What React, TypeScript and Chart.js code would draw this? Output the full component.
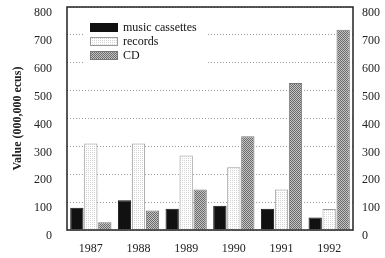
import React, { useEffect, useRef } from "react";
import { Chart, registerables } from "chart.js";

Chart.register(...registerables);

const years = ["1987", "1988", "1989", "1990", "1991", "1992"];
const cassettes = [80, 107, 76, 87, 76, 45];
const records = [310, 310, 267, 225, 145, 75];
const cds = [28, 70, 145, 336, 527, 718];
const seriesNames = ["music cassettes", "records", "CD"];
const yTicks = [0, 100, 200, 300, 400, 500, 600, 700, 800];
const yTitle = "Value (000,000 ecus)";

function makePattern(kind: string): CanvasPattern | string {
  const c = document.createElement("canvas");
  c.width = 2;
  c.height = 2;
  const g = c.getContext("2d");
  if (!g) return "#999";
  if (kind === "records") {
    g.fillStyle = "#ffffff";
    g.fillRect(0, 0, 2, 2);
    g.fillStyle = "#d4d4d4";
    g.fillRect(0, 0, 1, 1);
  } else {
    g.fillStyle = "#c4c4c4";
    g.fillRect(0, 0, 2, 2);
    g.fillStyle = "#6a6a6a";
    g.fillRect(0, 0, 1, 1);
    g.fillRect(1, 1, 1, 1);
  }
  const ctx = document.createElement("canvas").getContext("2d")!;
  return ctx.createPattern(c, "repeat") || "#999";
}

export default function App() {
  const ref = useRef<HTMLCanvasElement | null>(null);

  useEffect(() => {
    document.body.style.margin = "0";
    const canvas = ref.current;
    if (!canvas) return;
    const recFill = makePattern("records");
    const cdFill = makePattern("cd");
    const fills = ["#111111", recFill, cdFill];
    const borders = ["#111111", "#9a9a9a", "#777777"];

    const framePlugin = {
      id: "frameLegend",
      afterDatasetsDraw(chart: any) {
        const { ctx, chartArea } = chart;
        ctx.save();
        ctx.strokeStyle = "#222";
        ctx.lineWidth = 1.5;
        ctx.strokeRect(chartArea.left, chartArea.top, chartArea.right - chartArea.left, chartArea.bottom - chartArea.top);
        const lx = chartArea.left + 23;
        const ly = chartArea.top + 16;
        ctx.fillStyle = "#ffffff";
        ctx.fillRect(lx - 5, ly - 5, 122, 46);
        ctx.font = "12px 'Liberation Serif', serif";
        ctx.textBaseline = "middle";
        seriesNames.forEach((name, i) => {
          const y = ly + i * 14;
          ctx.fillStyle = fills[i] as any;
          ctx.fillRect(lx, y, 28, 9);
          ctx.strokeStyle = borders[i];
          ctx.lineWidth = 1;
          ctx.strokeRect(lx + 0.5, y + 0.5, 27, 8);
          ctx.fillStyle = "#111";
          ctx.fillText(name, lx + 33, y + 4.5);
        });
        ctx.restore();
      },
    };

    const noPad = (scale: any) => {
      scale.paddingTop = 0;
      scale.paddingBottom = 0;
    };

    const chart = new Chart(canvas, {
      type: "bar",
      data: {
        labels: years,
        datasets: [
          { label: seriesNames[0], data: cassettes, backgroundColor: fills[0] as any, borderColor: borders[0], borderWidth: 1 },
          { label: seriesNames[1], data: records, backgroundColor: fills[1] as any, borderColor: borders[1], borderWidth: 1 },
          { label: seriesNames[2], data: cds, backgroundColor: fills[2] as any, borderColor: borders[2], borderWidth: 1 },
        ],
      },
      options: {
        responsive: false,
        animation: false,
        maintainAspectRatio: false,
        layout: { padding: { top: 7, left: 0, right: 0, bottom: 0 } },
        datasets: { bar: { barPercentage: 0.95, categoryPercentage: 0.88 } },
        plugins: { legend: { display: false }, tooltip: { enabled: false } },
        scales: {
          x: {
            grid: { display: false, drawTicks: false },
            border: { display: false },
            ticks: { color: "#222", font: { family: "'Liberation Serif', serif", size: 12 }, padding: 12 },
            afterFit(scale: any) { scale.height = 28; },
          },
          y: {
            position: "left",
            min: 0,
            max: 800,
            afterBuildTicks(scale: any) { scale.ticks = yTicks.map((v) => ({ value: v })); },
            grid: { color: "#9a9a9a", drawTicks: false, lineWidth: 1 },
            border: { display: false, dash: [1, 2] },
            ticks: { color: "#222", font: { family: "'Liberation Serif', serif", size: 12 }, padding: 15, labelOffset: 6 },
            title: { display: true, text: yTitle, color: "#222", font: { family: "'Liberation Serif', serif", size: 12, weight: "bold" }, padding: { top: 11, bottom: 0 } },
            afterFit(scale: any) { scale.width = 67; noPad(scale); },
          },
          y2: {
            position: "right",
            min: 0,
            max: 800,
            afterBuildTicks(scale: any) { scale.ticks = yTicks.map((v) => ({ value: v })); },
            grid: { display: false, drawTicks: false },
            border: { display: false },
            ticks: { color: "#222", font: { family: "'Liberation Serif', serif", size: 12 }, padding: 9, labelOffset: 6 },
            afterFit(scale: any) { scale.width = 32; noPad(scale); },
          },
        },
      } as any,
      plugins: [framePlugin],
    });
    return () => chart.destroy();
  }, []);

  return <canvas ref={ref} width={385} height={258} style={{ display: "block" }} />;
}
